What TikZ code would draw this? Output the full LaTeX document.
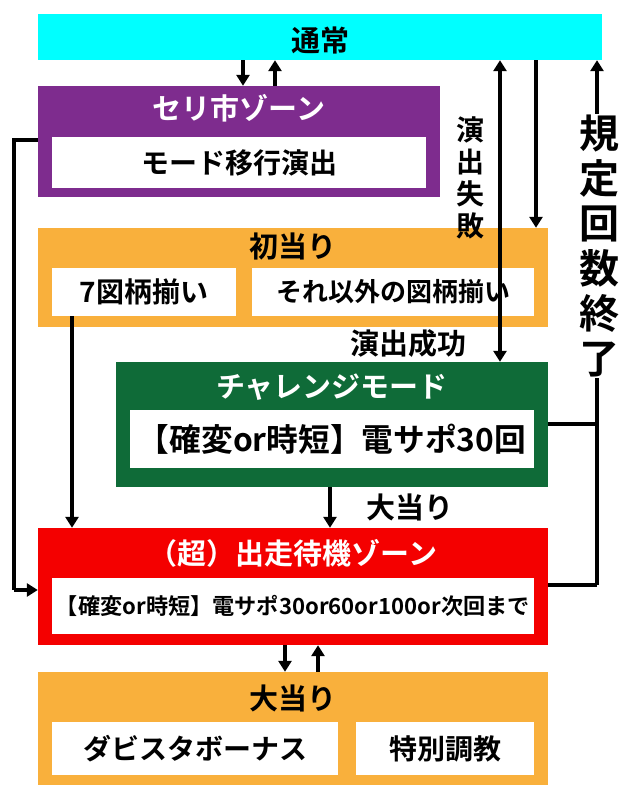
\documentclass[tikz,border=0pt]{standalone}
\usepackage{fontspec}
\setmainfont{Noto Sans CJK JP Bold}
\usetikzlibrary{arrows.meta,calc,positioning}
\definecolor{cyanbar}{HTML}{00FFFF}
\definecolor{purplebox}{HTML}{7E2C8E}
\definecolor{orangebox}{HTML}{F9B03C}
\definecolor{greenbox}{HTML}{0F6B38}
\definecolor{redbox}{HTML}{F40000}
\tikzset{
  panel/.style={draw=none, inner sep=0pt},
  inbox/.style={fill=white, inner sep=0pt, font=\fontsize{28}{28}\selectfont},
  ttl/.style={font=\fontsize{29}{29}\selectfont},
  arr/.style={line width=3.5pt, -{Triangle[length=11pt,width=13pt]}},
  dblarr/.style={line width=3.5pt, {Triangle[length=11pt,width=13pt]}-{Triangle[length=11pt,width=13pt]}},
  ln/.style={line width=3.5pt}
}
\begin{document}
\begin{tikzpicture}[x=1pt,y=-1pt]
\useasboundingbox (0,0) rectangle (640,799);

% Boxes
\node[panel, fill=cyanbar, minimum width=564pt, minimum height=46pt] (normal) at (320,37) {};
\node[ttl] at (320,40) {通常};

\node[panel, fill=purplebox, minimum width=402pt, minimum height=111pt] (seri) at (239,141.5) {};
\node[ttl, white] at (239,108) {セリ市ゾーン};
\node[inbox, minimum width=374pt, minimum height=51pt] (seriin) at (239,162.5) {モード移行演出};

\node[panel, fill=orangebox, minimum width=510pt, minimum height=99pt] (first) at (293,277.5) {};
\node[ttl] at (293,246) {初当り};
\node[inbox, minimum width=184pt, minimum height=48pt] (seven) at (144,292) {7図柄揃い};
\node[inbox, minimum width=282pt, minimum height=48pt, font=\fontsize{26}{26}\selectfont] (other) at (393,292) {それ以外の図柄揃い};

\node[panel, fill=greenbox, minimum width=432pt, minimum height=125pt] (chal) at (332,424.5) {};
\node[ttl, white] at (332,387) {チャレンジモード};
\node[inbox, minimum width=404pt, minimum height=58pt] (chalin) at (332,439) {\resizebox{388pt}{!}{【確変or時短】電サポ30回}};

\node[panel, fill=redbox, minimum width=510pt, minimum height=117pt] (wait) at (293,586.5) {};
\node[ttl, white] at (293,553) {（超）出走待機ゾーン};
\node[inbox, minimum width=482pt, minimum height=56pt] (waitin) at (293,606) {\resizebox{474pt}{!}{【確変or時短】電サポ30or60or100or次回まで}};

\node[panel, fill=orangebox, minimum width=510pt, minimum height=113pt] (hit) at (293,728.5) {};
\node[ttl] at (293,698) {大当り};
\node[inbox, minimum width=286pt, minimum height=53pt] (bonus) at (195,748.5) {ダビスタボーナス};
\node[inbox, minimum width=178pt, minimum height=53pt] (train) at (445,748.5) {特別調教};

% Connectors
\coordinate (xa) at (243,0);
\coordinate (xb) at (275,0);
\coordinate (xc) at (500,0);
\coordinate (xd) at (536,0);
\coordinate (xe) at (597,0);
\coordinate (xf) at (14,0);
\coordinate (xg) at (72,0);
\coordinate (xh) at (285,0);
\coordinate (xi) at (318,0);
\coordinate (xj) at (330,0);
\coordinate (yc) at (0,424);
\coordinate (yr) at (0,585);
\coordinate (yl) at (0,140);
\coordinate (yw) at (0,590);

\draw[arr] (normal.south -| xa) -- (seri.north -| xa);
\draw[arr] (seri.north -| xb) -- (normal.south -| xb);
\draw[dblarr] (normal.south -| xc) -- (chal.north -| xc);
\draw[arr] (normal.south -| xd) -- (first.north -| xd);
\draw[ln] (chal.east |- yc) -- (xe |- yc);
\draw[ln] (wait.east |- yr) -- (xe |- yr);
\draw[arr] (xe |- yr) -- (normal.south -| xe);
\draw[ln] (seri.west |- yl) -- (xf |- yl) -- (xf |- yw);
\draw[arr] (xf |- yw) -- (wait.west |- yw);
\draw[arr] (seven.south -| xg) -- (wait.north -| xg);
\draw[arr] (chal.south -| xj) -- (wait.north -| xj);
\draw[arr] (wait.south -| xh) -- (hit.north -| xh);
\draw[arr] (hit.north -| xi) -- (wait.south -| xi);

% Labels
\node[align=center, font=\fontsize{28}{32}\selectfont] (fail) at (470,178) {演\\出\\失\\敗};
\node[ttl] (succ) at (408,344) {演出成功};
\node[fill=white, inner sep=1pt, align=center, font=\fontsize{40}{45}\selectfont] (limit) at (599,246) {規\\定\\回\\数\\終\\了};
\node[ttl] (big) at (410,507) {大当り};
\end{tikzpicture}
\end{document}
